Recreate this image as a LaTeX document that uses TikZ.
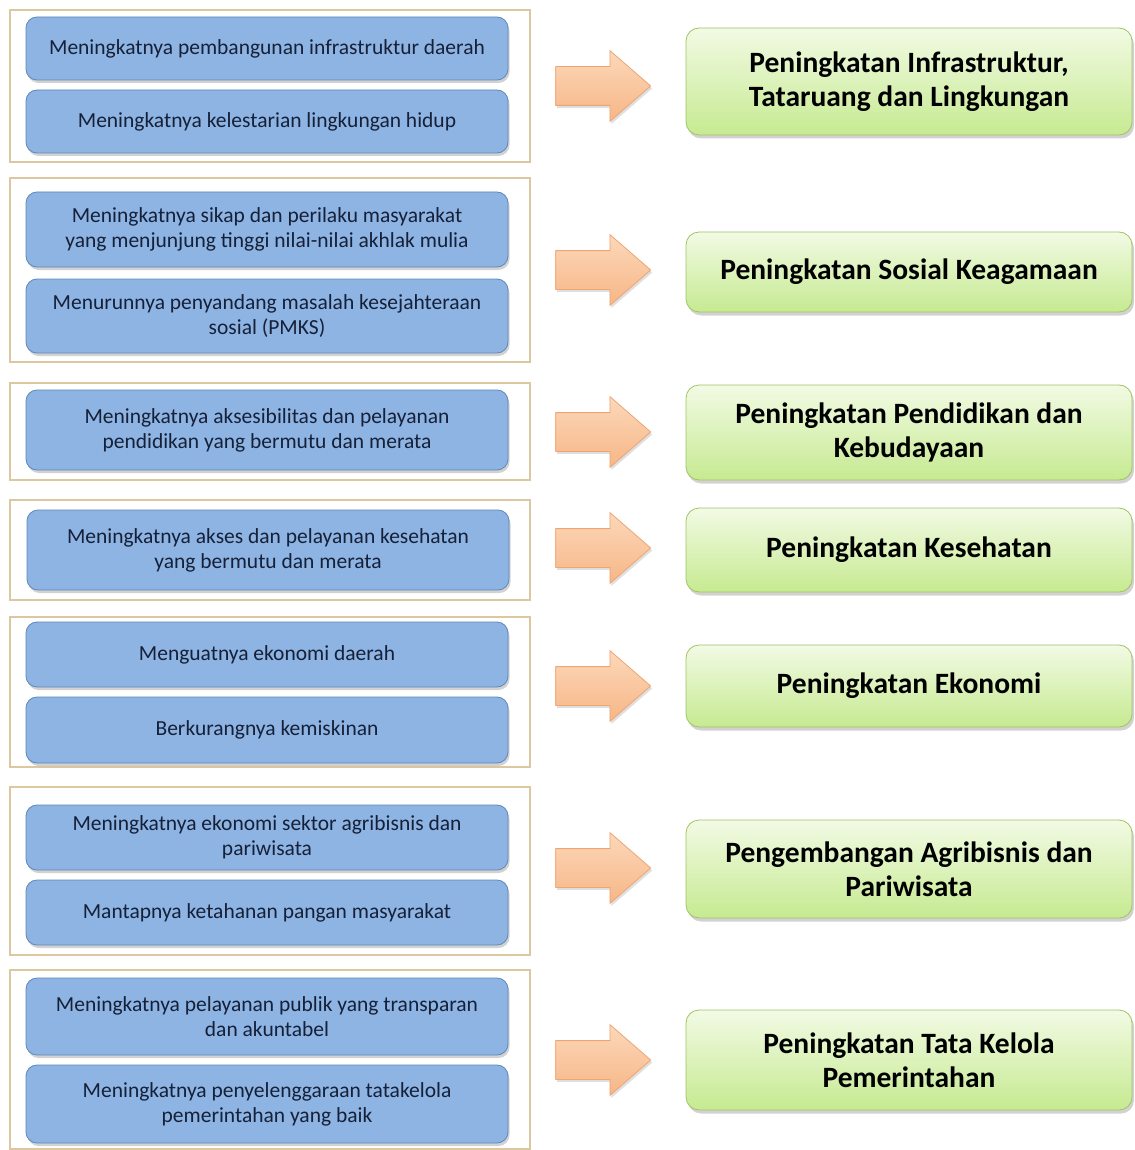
\documentclass[tikz,border=0pt]{standalone}
\usepackage{fontspec}
\setmainfont{Carlito}
\usetikzlibrary{shapes.arrows,shadows}
\definecolor{framec}{RGB}{220,200,160}
\definecolor{bluefill}{RGB}{141,180,226}
\definecolor{blueline}{RGB}{95,135,185}
\definecolor{bluetext}{RGB}{22,32,56}
\definecolor{greentop}{RGB}{242,250,228}
\definecolor{greenbot}{RGB}{198,234,145}
\definecolor{greenline}{RGB}{160,195,100}
\definecolor{arrtop}{RGB}{252,216,186}
\definecolor{arrbot}{RGB}{247,182,135}
\definecolor{arrline}{RGB}{238,165,115}
\tikzset{
  grp/.style={draw=framec, line width=1.2pt, fill=white},
  bluebox/.style={draw=blueline, line width=0.8pt, fill=bluefill, rounded corners=11pt,
    minimum width=482pt, align=center, text=bluetext,
    font=\fontsize{21.5}{25}\selectfont,
    drop shadow={opacity=0.35, shadow xshift=1.5pt, shadow yshift=-3pt}},
  greenbox/.style={draw=greenline, line width=0.8pt, top color=greentop, bottom color=greenbot,
    rounded corners=13pt, minimum width=446pt, align=center, text=black,
    font=\bfseries\fontsize{29.5}{34}\selectfont,
    drop shadow={opacity=0.35, shadow xshift=2pt, shadow yshift=-3.5pt}},
  blockarrow/.style={single arrow, draw=arrline, line width=0.8pt, top color=arrtop, bottom color=arrbot,
    minimum height=95pt, minimum width=70pt, inner sep=0pt, inner ysep=19pt,
    single arrow head extend=16pt, single arrow tip angle=82, shape border rotate=0,
    drop shadow={opacity=0.25, shadow xshift=1.5pt, shadow yshift=-2.5pt}}
}
\begin{document}
\begin{tikzpicture}[x=1pt,y=-1pt]
\useasboundingbox (0,0) rectangle (1134,1150);
\fill[white] (0,0) rectangle (1134,1150);
% group frames
\draw[grp] (10,10) rectangle (530,162);
\draw[grp] (10,178) rectangle (530,362);
\draw[grp] (10,383) rectangle (530,480);
\draw[grp] (10,500) rectangle (530,600);
\draw[grp] (10,617) rectangle (530,767);
\draw[grp] (10,787) rectangle (530,955);
\draw[grp] (10,970) rectangle (530,1149);
% blue boxes
\node[bluebox, minimum height=63pt] (b1a) at (267,48.5) {Meningkatnya pembangunan infrastruktur daerah};
\node[bluebox, minimum height=63pt] (b1b) at (267,121.5) {Meningkatnya kelestarian lingkungan hidup};
\node[bluebox, minimum height=75pt] (b2a) at (267,229.5) {Meningkatnya sikap dan perilaku masyarakat\\yang menjunjung tinggi nilai-nilai akhlak mulia};
\node[bluebox, minimum height=74pt] (b2b) at (267,316) {Menurunnya penyandang masalah kesejahteraan\\sosial (PMKS)};
\node[bluebox, minimum height=80pt] (b3a) at (267,430) {Meningkatnya aksesibilitas dan pelayanan\\pendidikan yang bermutu dan merata};
\node[bluebox, minimum height=80pt] (b4a) at (268,550) {Meningkatnya akses dan pelayanan kesehatan\\yang bermutu dan merata};
\node[bluebox, minimum height=65pt] (b5a) at (267,654.5) {Menguatnya ekonomi daerah};
\node[bluebox, minimum height=66pt] (b5b) at (267,730) {Berkurangnya kemiskinan};
\node[bluebox, minimum height=65pt] (b6a) at (267,837.5) {Meningkatnya ekonomi sektor agribisnis dan\\pariwisata};
\node[bluebox, minimum height=65pt] (b6b) at (267,912.5) {Mantapnya ketahanan pangan masyarakat};
\node[bluebox, minimum height=77pt] (b7a) at (267,1016.5) {Meningkatnya pelayanan publik yang transparan\\dan akuntabel};
\node[bluebox, minimum height=78pt] (b7b) at (267,1104) {Meningkatnya penyelenggaraan tatakelola\\pemerintahan yang baik};
% arrows
\node[blockarrow] (a1) at (592,86) {};
\node[blockarrow] (a2) at (592,270) {};
\node[blockarrow] (a3) at (592,432) {};
\node[blockarrow] (a4) at (592,548) {};
\node[blockarrow] (a5) at (592,686) {};
\node[blockarrow] (a6) at (592,868) {};
\node[blockarrow] (a7) at (592,1060) {};
% green boxes
\node[greenbox, minimum height=107pt] (g1) at (909,81.5) {Peningkatan Infrastruktur,\\Tataruang dan Lingkungan};
\node[greenbox, minimum height=80pt] (g2) at (909,272) {Peningkatan Sosial Keagamaan};
\node[greenbox, minimum height=95pt] (g3) at (909,432.5) {Peningkatan Pendidikan dan\\Kebudayaan};
\node[greenbox, minimum height=84pt] (g4) at (909,550) {Peningkatan Kesehatan};
\node[greenbox, minimum height=82pt] (g5) at (909,686) {Peningkatan Ekonomi};
\node[greenbox, minimum height=98pt] (g6) at (909,869) {Pengembangan Agribisnis dan\\Pariwisata};
\node[greenbox, minimum height=100pt] (g7) at (909,1060) {Peningkatan Tata Kelola\\Pemerintahan};
\end{tikzpicture}
\end{document}
